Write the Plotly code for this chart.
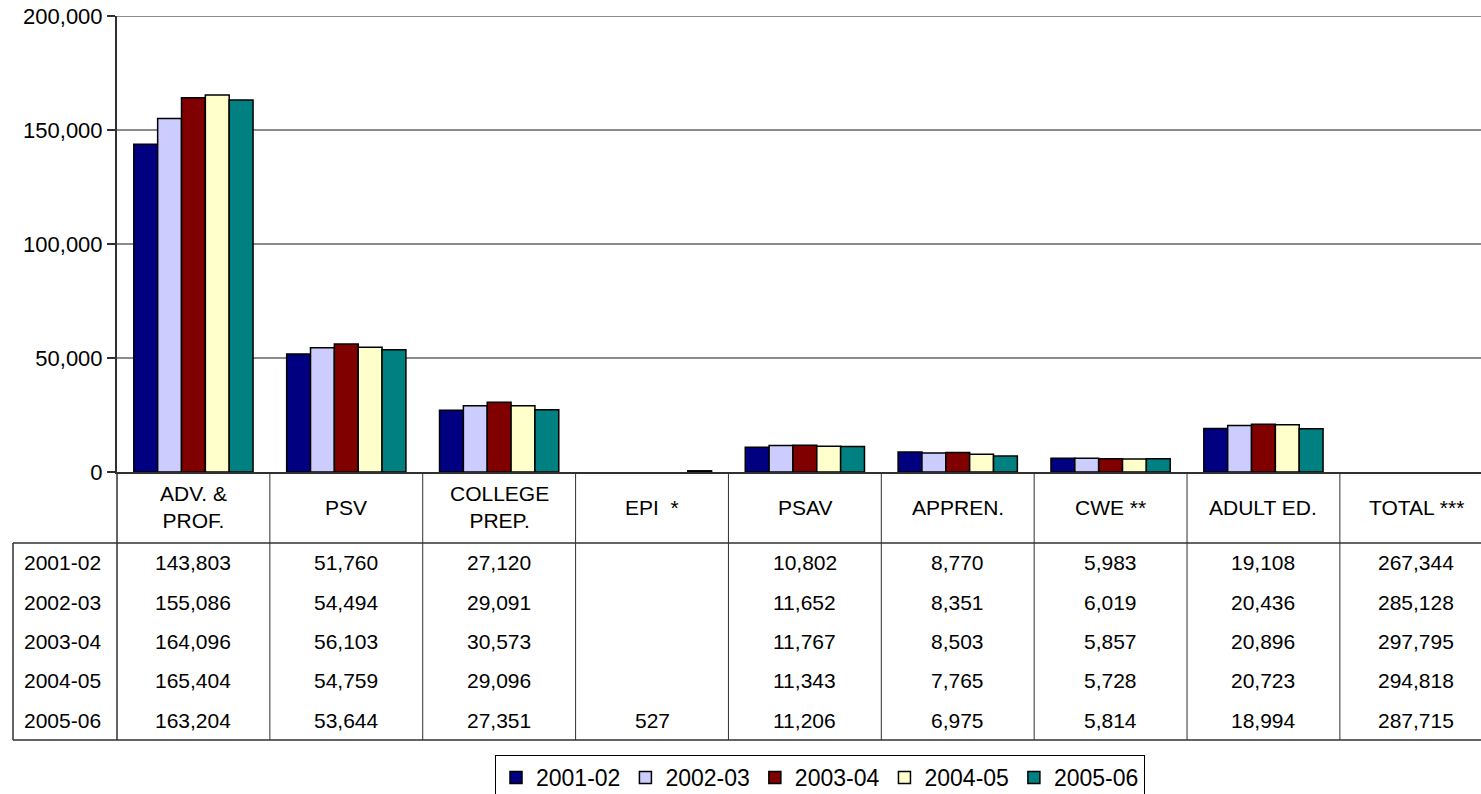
import plotly.graph_objects as go

categories = ["ADV. &<br>PROF.", "PSV", "COLLEGE<br>PREP.", "EPI  *", "PSAV",
              "APPREN.", "CWE **", "ADULT ED.", "TOTAL ***"]
years = ["2001-02", "2002-03", "2003-04", "2004-05", "2005-06"]
v2001_02 = [143803, 51760, 27120, None, 10802, 8770, 5983, 19108, 267344]
v2002_03 = [155086, 54494, 29091, None, 11652, 8351, 6019, 20436, 285128]
v2003_04 = [164096, 56103, 30573, None, 11767, 8503, 5857, 20896, 297795]
v2004_05 = [165404, 54759, 29096, None, 11343, 7765, 5728, 20723, 294818]
v2005_06 = [163204, 53644, 27351, 527, 11206, 6975, 5814, 18994, 287715]
series = [v2001_02, v2002_03, v2003_04, v2004_05, v2005_06]
colors = ["#000080", "#CCCCFF", "#800000", "#FFFFCC", "#008080"]
y_ticks = [0, 50000, 100000, 150000, 200000]

FONT = "Liberation Sans, Arial, sans-serif"
W, H = 1481, 794
SL, ST, SB = 117, 16, 472  # pixel coords of plot left, top, bottom
L, T = SL, ST
B = H - SB
PH = SB - ST
PW = W - SL
PITCH = 152.86
XMAX = PW / PITCH - 0.5
TBOT = 740

def py(p):  # pixel y -> paper
    return (SB - p) / PH

def px(p):  # pixel x -> paper
    return (p - SL) / PW

fig = go.Figure()
xs = list(range(len(categories)))
for name, vals, c in zip(years, series, colors):
    bar_vals = vals[:-1] + [None]  # total is listed in the table only
    fig.add_trace(go.Bar(
        x=xs, y=bar_vals, name=name,
        marker=dict(color=c, line=dict(color="black", width=1.5)),
    ))

shapes = []
ann = []
line_col = "#303030"
shapes.append(dict(type="line", xref="paper", yref="y",
                   x0=0, x1=1, y0=y_ticks[-1], y1=y_ticks[-1],
                   line=dict(color="#8c8c8c", width=2)))
for yy in [543, TBOT]:
    shapes.append(dict(type="line", xref="paper", yref="paper",
                       x0=px(13), x1=1.01, y0=py(yy), y1=py(yy),
                       line=dict(color=line_col, width=1.5)))
shapes.append(dict(type="line", xref="paper", yref="paper",
                   x0=px(13), x1=px(13), y0=py(543), y1=py(TBOT),
                   line=dict(color=line_col, width=1.5)))
shapes.append(dict(type="line", xref="paper", yref="paper",
                   x0=0, x1=0, y0=0, y1=py(TBOT),
                   line=dict(color=line_col, width=1.5)))
for i in range(len(categories) - 1):
    shapes.append(dict(type="line", xref="x", yref="paper",
                       x0=i + 0.5, x1=i + 0.5, y0=0, y1=py(TBOT),
                       line=dict(color=line_col, width=1)))

for i, c in enumerate(categories):
    ann.append(dict(x=i, y=py(507), xref="x", yref="paper", text=c,
                    showarrow=False, xanchor="center", yanchor="middle",
                    font=dict(size=21, color="black", family=FONT)))
for r, (name, vals) in enumerate(zip(years, series)):
    yc = py(543 + (TBOT - 543) / 5 * (r + 0.5))
    ann.append(dict(x=px(62), y=yc, xref="paper", yref="paper", text=name,
                    showarrow=False, xanchor="center", yanchor="middle",
                    font=dict(size=21, color="black", family=FONT)))
    for i, v in enumerate(vals):
        if v is None:
            continue
        ann.append(dict(x=i, y=yc, xref="x", yref="paper", text=f"{v:,}",
                        showarrow=False, xanchor="center", yanchor="middle",
                        font=dict(size=21, color="black", family=FONT)))

fig.update_layout(
    width=W, height=H,
    margin=dict(l=L, r=0, t=T, b=B, pad=0, autoexpand=False),
    paper_bgcolor="white", plot_bgcolor="white",
    barmode="group", bargap=0.22, bargroupgap=0,
    font=dict(family=FONT, size=21, color="black"),
    shapes=shapes, annotations=ann,
    xaxis=dict(range=[-0.5, XMAX], showticklabels=False, ticks="",
               showgrid=False, showline=True, linecolor=line_col, linewidth=2,
               zeroline=False, fixedrange=True),
    yaxis=dict(range=[0, 200000], tickvals=y_ticks,
               ticktext=[f"{v:,}" for v in y_ticks],
               ticks="outside", ticklen=8, tickcolor=line_col, tickwidth=1.5,
               showline=True, linecolor=line_col, linewidth=2,
               showgrid=True, gridcolor="#8c8c8c", gridwidth=2,
               ticklabeloverflow="allow",
               zeroline=False, tickfont=dict(size=22, color="black", family=FONT)),
    legend=dict(orientation="h", x=px(820), xanchor="center",
                y=py(755), yanchor="top", bordercolor="black", borderwidth=1,
                font=dict(size=23, color="black", family=FONT),
                bgcolor="white", traceorder="normal"),
    showlegend=True,
)

fig.write_html("out.html", config={"displayModeBar": False},
               post_script="document.body.style.margin='0';"
                           "document.body.style.overflow='hidden';")
